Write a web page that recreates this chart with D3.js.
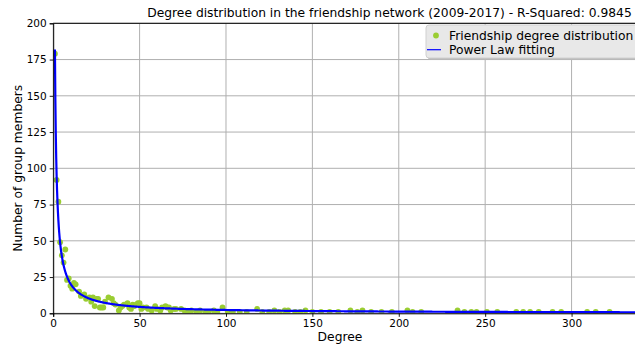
<!DOCTYPE html>
<html>
<head>
<meta charset="utf-8">
<script src="https://cdn.jsdelivr.net/npm/d3@7"></script>
<style>
  html, body { margin: 0; padding: 0; background: #fff; }
  svg { display: block; font-family: "DejaVu Sans", sans-serif; }
</style>
</head>
<body>
<svg id="chart" width="635" height="345"></svg>
<script>
// Friendship network: number of group members per degree (2009-2017)
const degrees = [
  1, 2, 3, 4, 5, 6, 7, 8, 9, 10, 11, 12, 13, 15, 16, 18, 19, 21, 22, 23,
  24, 25, 26, 27, 28, 29, 30, 32, 34, 35, 36, 38, 39, 40, 41, 43, 44, 45, 46, 47,
  48, 49, 50, 51, 52, 54, 55, 57, 59, 60, 62, 63, 65, 66, 67, 68, 70, 71, 74, 76,
  78, 80, 83, 85, 88, 90, 93, 95, 98, 101, 104, 108, 112, 118, 121, 125, 128, 131, 134, 136,
  140, 143, 146, 150, 155, 160, 165, 172, 176, 179, 184, 190, 196, 205, 208, 213, 234, 238, 242, 245,
  251, 257, 268, 272, 276, 281, 289, 294, 309, 314, 322
];
const members = [
  179, 92, 77, 49, 40, 35, 44, 23, 24, 19, 17, 21, 20, 15, 12, 13, 10, 11, 8, 11,
  5, 10, 10, 4, 4, 4, 8, 11, 10, 7, 6, 2, 4, 5, 6, 7, 4, 3, 6, 5,
  6, 7, 7, 3, 4, 4, 3, 2, 5, 3, 2, 4, 5, 4, 4, 2, 3, 3, 3, 2,
  1, 2, 1, 2, 1, 1, 2, 1, 4, 1, 1, 1, 1, 3, 1, 1, 2, 1, 2, 2,
  1, 1, 2, 1, 1, 1, 1, 2, 1, 2, 1, 1, 1, 2, 1, 1, 2, 1, 1, 1,
  1, 1, 1, 1, 1, 1, 1, 1, 1, 1, 1
];

// Fitted power law  y = a * x^(-b)
const fitA = 182;
const fitB = 0.95;
const rSquared = "0.9845";

const xTicks = [0, 50, 100, 150, 200, 250, 300];
const yTicks = [0, 25, 50, 75, 100, 125, 150, 175, 200];

const titleText = "Degree distribution in the friendship network (2009-2017) - R-Squared: " + rSquared;
const xLabel = "Degree";
const yLabel = "Number of group members";
const legendLabels = ["Friendship degree distribution", "Power Law fitting"];

const svg = d3.select("#chart");
const plotLeft = 53.2, plotRight = 645, plotTop = 23.3, plotBottom = 313.3;

const x = d3.scaleLinear().domain([0, 342.5]).range([plotLeft, plotRight]);
const y = d3.scaleLinear().domain([0, 200]).range([plotBottom, plotTop]);

const pointColor = "#9acd32";
const lineColor = "#0000ff";

svg.append("defs").append("clipPath").attr("id", "plot-clip")
  .append("rect").attr("x", plotLeft).attr("y", plotTop)
  .attr("width", plotRight - plotLeft).attr("height", plotBottom - plotTop);

// grid
const grid = svg.append("g").attr("stroke", "#b0b0b0").attr("stroke-width", 1);
grid.selectAll("line.v").data(xTicks).join("line").attr("class", "v")
  .attr("x1", d => x(d)).attr("x2", d => x(d))
  .attr("y1", plotTop).attr("y2", plotBottom);
grid.selectAll("line.h").data(yTicks).join("line").attr("class", "h")
  .attr("x1", plotLeft).attr("x2", plotRight)
  .attr("y1", d => y(d)).attr("y2", d => y(d));

// scatter
const pts = degrees.map((d, i) => ({ deg: d, n: members[i] }));
const plot = svg.append("g").attr("clip-path", "url(#plot-clip)");
plot.selectAll("circle").data(pts).join("circle")
  .attr("cx", d => x(d.deg)).attr("cy", d => y(d.n))
  .attr("r", 2.9).attr("fill", pointColor);

// fitted curve over the axis range
const fitX = d3.range(1, 343, 0.25);
const fitLine = d3.line().x(d => x(d)).y(d => y(fitA * Math.pow(d, -fitB)));
plot.append("path").datum(fitX)
  .attr("d", fitLine).attr("fill", "none")
  .attr("stroke", lineColor).attr("stroke-width", 2.2);

// axes
const xAxis = d3.axisBottom(x).tickValues(xTicks).tickSize(3.5).tickPadding(2.5);
const yAxis = d3.axisLeft(y).tickValues(yTicks).tickSize(3.5).tickPadding(3);

const gx = svg.append("g").attr("transform", `translate(0,${plotBottom})`).call(xAxis);
const gy = svg.append("g").attr("transform", `translate(${plotLeft},0)`).call(yAxis);
[gx, gy].forEach(g => {
  g.select(".domain").attr("stroke", "#000").attr("stroke-width", 1);
  g.selectAll(".tick line").attr("stroke", "#000").attr("stroke-width", 0.9);
  g.selectAll(".tick text").attr("fill", "#000")
    .style("font-family", "DejaVu Sans").style("font-size", "10.5px");
});
// top spine
svg.append("line").attr("x1", plotLeft).attr("x2", plotRight)
  .attr("y1", plotTop).attr("y2", plotTop).attr("stroke", "#000").attr("stroke-width", 1);

// labels
svg.append("text").attr("x", 389.5).attr("y", 16.5)
  .attr("text-anchor", "middle").style("font-size", "12.3px").text(titleText);
svg.append("text").attr("x", 340).attr("y", 340.5)
  .attr("text-anchor", "middle").style("font-size", "12.3px").text(xLabel);
svg.append("text").attr("transform", `translate(22,${(plotTop + plotBottom) / 2}) rotate(-90)`)
  .attr("text-anchor", "middle").style("font-size", "12.3px").text(yLabel);

// legend
const lg = svg.append("g");
lg.append("rect").attr("x", 428).attr("y", 27).attr("width", 215).attr("height", 33)
  .attr("rx", 3).attr("fill", "#b8b8b8");
lg.append("rect").attr("x", 426).attr("y", 25).attr("width", 215).attr("height", 33)
  .attr("rx", 3).attr("fill", "#e8e8e8").attr("stroke", "#d0d0d0").attr("stroke-width", 1);
lg.append("circle").attr("cx", 436).attr("cy", 35.5).attr("r", 2.9).attr("fill", pointColor);
lg.append("line").attr("x1", 427).attr("x2", 441).attr("y1", 49.7).attr("y2", 49.7)
  .attr("stroke", lineColor).attr("stroke-width", 1.2);
lg.selectAll("text").data(legendLabels).join("text")
  .attr("x", 449).attr("y", (d, i) => 39.5 + i * 14.5)
  .style("font-size", "12.3px").text(d => d);
</script>
</body>
</html>
